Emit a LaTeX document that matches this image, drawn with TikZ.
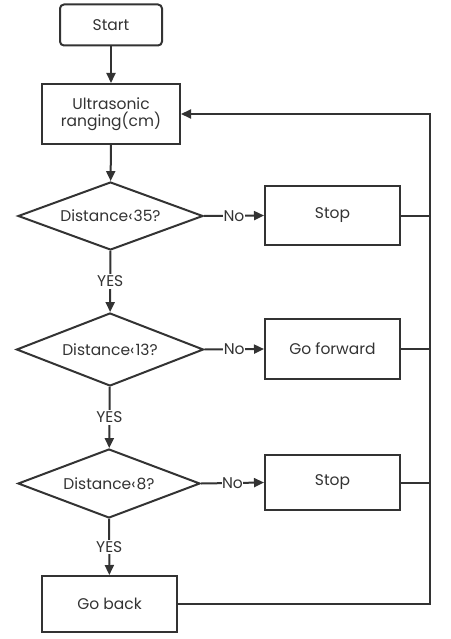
\documentclass[tikz,border=0pt]{standalone}
\usepackage{fontspec}
\setmainfont{Poppins}
\usetikzlibrary{shapes.geometric,arrows.meta}
\definecolor{ink}{HTML}{333333}
\begin{document}
\begin{tikzpicture}[x=1pt,y=-1pt,
  every node/.style={font=\fontsize{15.5}{19}\selectfont, text=ink},
  boxnode/.style={draw=ink, line width=2pt, minimum width=135pt, inner sep=0pt, align=center},
  decnode/.style={draw=ink, line width=2pt, diamond, aspect=2.7, inner sep=0pt},
  conn/.style={draw=ink, line width=2pt},
  arr/.style={conn, -{Triangle[length=10pt,width=9pt]}},
  lbl/.style={fill=white, inner sep=0.5pt}
]
\useasboundingbox (0,0) rectangle (450,639);
\node[boxnode, rounded corners=4pt, minimum width=102pt, minimum height=41pt] (start) at (111,25) {Start};
\node[boxnode, minimum width=138pt, minimum height=60pt] (ultra) at (111,114) {Ultrasonic\\[-2pt]ranging(cm)};
\node[decnode, minimum width=185pt, minimum height=68pt] (d1) at (110.5,216) {Distance‹\kern1pt 35?};
\node[boxnode, minimum height=59pt] (stop1) at (332.5,215.5) {Stop};
\node[decnode, minimum width=187pt, minimum height=73pt] (d2) at (110,349.5) {Distance‹\kern1pt 13?};
\node[boxnode, minimum height=60pt] (fwd) at (332.5,349) {Go forward};
\node[decnode, minimum width=182pt, minimum height=69pt] (d3) at (109,483.5) {Distance‹\kern1pt 8?};
\node[boxnode, minimum height=55pt] (stop3) at (332.5,482.5) {Stop};
\node[boxnode, minimum height=56pt] (back) at (109.5,604) {Go back};
\coordinate (bus) at (430,114);

\draw[arr] (start) -- (ultra);
\draw[arr] (ultra) -- (d1);
\draw[arr] (d1) -- node[lbl, inner sep=1.5pt]{YES} (d2);
\draw[arr] (d2) -- node[lbl, inner sep=1.5pt]{YES} (d3);
\draw[arr] (d3) -- node[lbl, inner sep=1.5pt]{YES} (back);
\draw[arr] (d1.east) -- node[lbl]{No} (stop1.west);
\draw[arr] (d2.east) -- node[lbl]{No} (fwd.west);
\draw[arr] (d3.east) -- node[lbl]{No} (stop3.west);
\draw[conn] (stop1.east) -- (stop1.east -| bus);
\draw[conn] (fwd.east) -- (fwd.east -| bus);
\draw[conn] (stop3.east) -- (stop3.east -| bus);
\draw[arr] (back.east) -| (bus) -- (ultra.east);
\end{tikzpicture}
\end{document}
